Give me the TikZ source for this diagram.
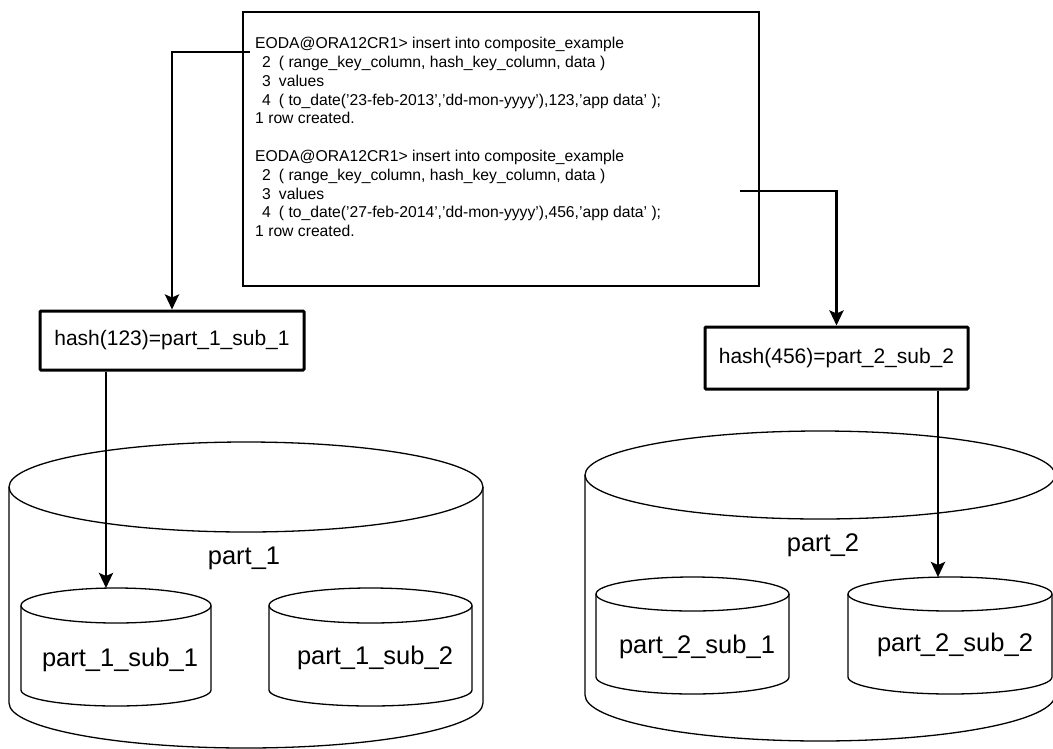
\documentclass[tikz,border=0pt]{standalone}
\usepackage{fontspec}
\setmainfont{Liberation Sans}
\usetikzlibrary{arrows.meta}
\begin{document}
\begin{tikzpicture}[x=1pt,y=-1pt,
  conn/.style={line width=2.8pt,-{Stealth[width=14pt,length=15pt,inset=3pt]}},
  cyl/.style={line width=1.3pt},
  hashbox/.style={draw,line width=3pt,rounded corners=1pt,minimum width=264pt,minimum height=59pt,font=\fontsize{21}{25}\selectfont,inner sep=0pt},
  codeline/.style={anchor=base west,inner sep=0pt,font=\fontsize{15.7}{18.8}\selectfont},
  biglabel/.style={font=\fontsize{25.5}{30}\selectfont,inner sep=0pt}]
\useasboundingbox (0,0) rectangle (1053,748);
\fill[white] (0,0) rectangle (1053,748);

% big cylinder part_1
\draw[cyl] (246,487) ellipse [x radius=237pt,y radius=45pt];
\draw[cyl] (9,487) -- (9,703) arc[start angle=180,end angle=360,x radius=237pt,y radius=45pt] -- (483,487);
% big cylinder part_2
\draw[cyl] (820,475) ellipse [x radius=235pt,y radius=44pt];
\draw[cyl] (585,475) -- (585,695) arc[start angle=180,end angle=360,x radius=235pt,y radius=46pt] -- (1055,475);

% sub cylinders
\draw[cyl] (116,605.5) ellipse [x radius=95pt,y radius=17.5pt];
\draw[cyl] (21,605.5) -- (21,690) arc[start angle=180,end angle=360,x radius=95pt,y radius=16pt] -- (211,605.5);
\draw[cyl] (370.5,605.5) ellipse [x radius=101.5pt,y radius=17.5pt];
\draw[cyl] (269,605.5) -- (269,690) arc[start angle=180,end angle=360,x radius=101.5pt,y radius=16pt] -- (472,605.5);
\draw[cyl] (692.5,594) ellipse [x radius=96.5pt,y radius=17pt];
\draw[cyl] (596,594) -- (596,677) arc[start angle=180,end angle=360,x radius=96.5pt,y radius=17pt] -- (789,594);
\draw[cyl] (950,594) ellipse [x radius=102pt,y radius=17pt];
\draw[cyl] (848,594) -- (848,677) arc[start angle=180,end angle=360,x radius=102pt,y radius=17pt] -- (1052,594);

% labels
\node[biglabel] (p1) at (244,558) {part\_1};
\node[biglabel] (p11) at (120,660) {part\_1\_sub\_1};
\node[biglabel] (p12) at (375,658) {part\_1\_sub\_2};
\node[biglabel] (p2) at (823,545) {part\_2};
\node[biglabel] (p21) at (697,647) {part\_2\_sub\_1};
\node[biglabel] (p22) at (955,645) {part\_2\_sub\_2};

% code box
\node[draw,line width=2pt,minimum width=516pt,minimum height=274pt,inner sep=0pt] (code) at (501,149) {};
\node[codeline] (l1) at (255,48.6) {EODA@ORA12CR1> insert into composite\_example};
\node[codeline] (l2) at (255,67.4) {\hspace*{7pt}2\hspace*{8pt}( range\_key\_column, hash\_key\_column, data )};
\node[codeline] (l3) at (255,86.2) {\hspace*{7pt}3\hspace*{8pt}values};
\node[codeline] (l4) at (255,105) {\hspace*{7pt}4\hspace*{8pt}( to\_date('23-feb-2013','dd-mon-yyyy'),123,'app data' );};
\node[codeline] (l5) at (255,123.8) {1 row created.};
\node[codeline] (l6) at (255,161.4) {EODA@ORA12CR1> insert into composite\_example};
\node[codeline] (l7) at (255,180.2) {\hspace*{7pt}2\hspace*{8pt}( range\_key\_column, hash\_key\_column, data )};
\node[codeline] (l8) at (255,199) {\hspace*{7pt}3\hspace*{8pt}values};
\node[codeline] (l9) at (255,217.8) {\hspace*{7pt}4\hspace*{8pt}( to\_date('27-feb-2014','dd-mon-yyyy'),456,'app data' );};
\node[codeline] (l10) at (255,236.6) {1 row created.};

% hash boxes
\node[hashbox] (h1) at (172,340.5) {hash(123)=part\_1\_sub\_1};
\node[hashbox,minimum width=263pt,minimum height=62pt] (h2) at (836.5,358) {hash(456)=part\_2\_sub\_2};

% connectors
\coordinate (c1) at (250,52);
\coordinate (c2) at (740,191);
\coordinate (s11top) at (106,588);
\coordinate (s22top) at (938,577);
\draw[conn] (c1) -| (h1.north);
\draw[conn] (c2) -| (h2.north);
\draw[conn] (h1.south -| s11top) -- (s11top);
\draw[conn] (h2.south -| s22top) -- (s22top);
\end{tikzpicture}
\end{document}
